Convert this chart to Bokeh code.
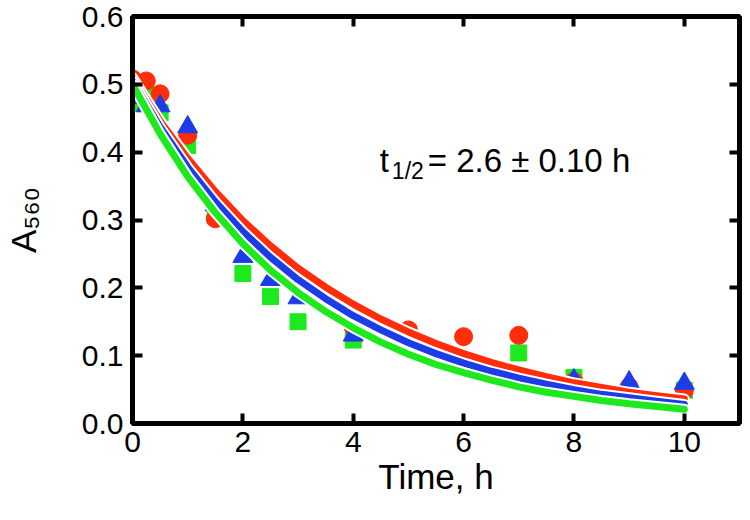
from bokeh.plotting import figure
from bokeh.models import Range1d, LinearAxis, Label, FixedTicker, PrintfTickFormatter
from bokeh.embed import file_html
from bokeh.resources import INLINE

# measured points
t_pts = [0, 0.25, 0.5, 1, 1.5, 2, 2.5, 3, 4, 5, 6, 7, 8, 9, 10]
red_pts = [0.508, 0.505, 0.486, 0.425, 0.302, 0.289, 0.245, 0.207, 0.142, 0.138, 0.128, 0.130, 0.062, 0.054, 0.049]
blue_pts = [0.480, 0.468, 0.468, 0.437, 0.322, 0.246, 0.212, 0.185, 0.130, 0.126, 0.085, 0.065, 0.064, 0.061, 0.059]
t_green = [0, 0.25, 0.5, 1, 1.5, 2, 2.5, 3, 4, 5, 7, 8, 10]
green_pts = [0.472, 0.485, 0.458, 0.410, 0.306, 0.221, 0.187, 0.150, 0.123, 0.133, 0.104, 0.068, 0.049]

# fitted curves
t_fit = [0, 0.5, 1, 1.5, 2, 2.5, 3, 3.5, 4, 4.5, 5, 5.5, 6, 6.5, 7, 7.5, 8, 8.5, 9, 9.5, 10]
red_fit = [0.510, 0.446, 0.391, 0.342, 0.299, 0.262, 0.229, 0.201, 0.176, 0.154, 0.135,
           0.118, 0.103, 0.090, 0.079, 0.069, 0.060, 0.053, 0.046, 0.041, 0.036]
blue_fit = [0.505, 0.437, 0.378, 0.327, 0.283, 0.245, 0.212, 0.184, 0.159, 0.138, 0.119,
            0.103, 0.089, 0.077, 0.067, 0.058, 0.050, 0.043, 0.038, 0.033, 0.028]
green_fit = [0.500, 0.427, 0.364, 0.311, 0.265, 0.226, 0.193, 0.165, 0.141, 0.120, 0.102,
             0.087, 0.075, 0.064, 0.054, 0.046, 0.040, 0.034, 0.029, 0.025, 0.021]

x_ticks = [0, 2, 4, 6, 8, 10]
y_ticks = [0.0, 0.1, 0.2, 0.3, 0.4, 0.5, 0.6]

RED = "#ff2d0a"
BLUE = "#1c3ce8"
GREEN = "#1ee81e"
FONT = "Liberation Sans"

p = figure(width=748, height=512, output_backend="svg", toolbar_location=None,
           x_range=Range1d(0, 11), y_range=Range1d(0, 0.6),
           min_border_left=128, min_border_right=9, min_border_top=16, min_border_bottom=89)
p.grid.visible = False
p.outline_line_color = "black"
p.outline_line_width = 5
p.background_fill_color = "white"
p.border_fill_color = "white"

top_axis = LinearAxis()
right_axis = LinearAxis()
p.add_layout(top_axis, "above")
p.add_layout(right_axis, "right")
xax = p.below[0]
yax = p.left[0]

for ax in (xax, top_axis):
    ax.ticker = FixedTicker(ticks=x_ticks)
for ax in (yax, right_axis):
    ax.ticker = FixedTicker(ticks=y_ticks)
yax.formatter = PrintfTickFormatter(format="%.1f")

for ax in (xax, yax, top_axis, right_axis):
    ax.axis_line_width = 5
    ax.axis_line_color = "black"
    ax.major_tick_line_width = 4
    ax.major_tick_line_color = "black"
    ax.major_tick_in = 10
    ax.major_tick_out = 0
    ax.minor_tick_line_color = None
    ax.major_label_text_font = FONT
    ax.major_label_text_font_size = "30px"
    ax.major_label_text_color = "black"
    ax.axis_label_text_font = FONT
    ax.axis_label_text_font_style = "normal"
    ax.axis_label_text_font_size = "35px"
    ax.axis_label_text_color = "black"

xax.major_label_standoff = 8
yax.major_label_standoff = 9
xax.axis_label = "Time, h"
xax.axis_label_standoff = 2
yax.axis_label = "A\u2085\u2086\u2080"
yax.axis_label_standoff = 36
for ax in (top_axis, right_axis):
    ax.major_label_text_font_size = "1px"
    ax.major_label_text_color = None
    ax.major_label_standoff = 0

# markers
p.scatter(t_green, green_pts, marker="square", size=16, color=GREEN)
p.scatter(t_pts, red_pts, marker="circle", size=18, color=RED)
p.scatter(t_pts, blue_pts, marker="triangle", size=20, color=BLUE)

# fitted curves with white casing
for ys, c in ((red_fit, RED), (blue_fit, BLUE), (green_fit, GREEN)):
    p.line(t_fit, ys, line_width=11, color="white", line_cap="round")
    p.line(t_fit, ys, line_width=7, color=c, line_cap="round")

# annotation t1/2
p.add_layout(Label(x=4.48, y=0.3877, text="t", text_font=FONT, text_font_size="33px",
                   text_align="left", text_baseline="alphabetic", text_color="black"))
p.add_layout(Label(x=4.70, y=0.3715, text="1/2", text_font=FONT, text_font_size="23px",
                   text_align="left", text_baseline="alphabetic", text_color="black"))
p.add_layout(Label(x=5.35, y=0.3877, text="= 2.6 \u00b1 0.10 h", text_font=FONT,
                   text_font_size="33px", text_align="left", text_baseline="alphabetic",
                   text_color="black"))

open("out.html", "w").write(file_html(p, INLINE))
